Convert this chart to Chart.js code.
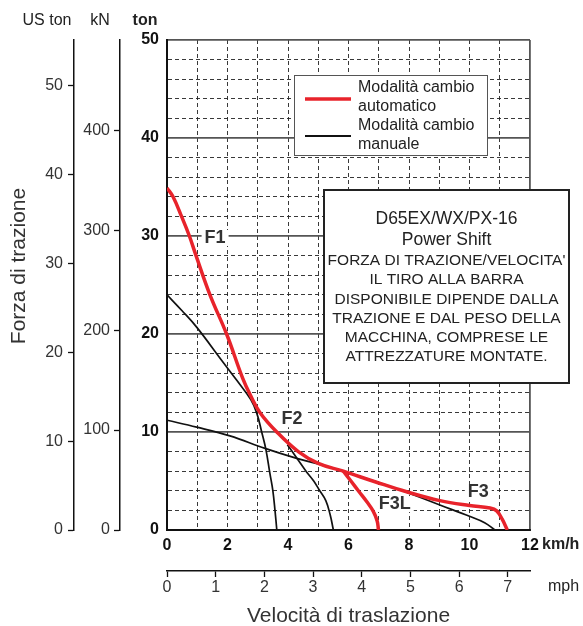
<!DOCTYPE html>
<html>
<head>
<meta charset="utf-8">
<script src="https://cdn.jsdelivr.net/npm/chart.js@4.4.1/dist/chart.umd.min.js"></script>
<style>
  html, body { margin: 0; padding: 0; background: #fff; }
  #wrap { width: 583px; height: 626px; position: relative; }
</style>
</head>
<body>
<div id="wrap"><canvas id="chart"></canvas></div>
<script>
// automatic shift mode (red): F1-F2-F3 envelope, plus F3L branch
const autoKmh = [0, 0.2, 0.48, 0.74, 0.96, 1.42, 1.97, 2.5, 2.75, 3.07, 3.63, 4.34, 5.0, 5.83, 6.9, 7.92, 9.02, 10.0, 10.68, 10.9, 11.08, 11.25];
const autoTon = [34.9, 34.0, 32.0, 30, 28, 24, 20, 15.5, 13.8, 12.0, 10, 8, 6.8, 6.0, 4.9, 3.9, 3.0, 2.5, 2.25, 1.95, 1.1, 0];
const f3lKmh = [5.83, 6.08, 6.35, 6.6, 6.82, 6.95, 6.99];
const f3lTon = [6.0, 5.0, 3.9, 2.9, 1.9, 0.9, 0];

// manual shift mode (black)
const manF1Kmh = [0, 0.49, 0.98, 1.81, 2.3, 2.77, 2.97, 3.13, 3.27, 3.4, 3.5, 3.57, 3.63];
const manF1Ton = [24, 22.4, 20.7, 17.3, 15.3, 13.3, 11.9, 10, 8.2, 5.8, 4.0, 2.0, 0];
const manF2Kmh = [3.98, 4.3, 4.62, 4.85, 5.05, 5.25, 5.39, 5.5];
const manF2Ton = [8.7, 7.3, 5.9, 5.0, 4.0, 3.0, 1.6, 0];
const manF3Kmh = [0, 0.98, 2.08, 3.24, 4.29, 5.0, 5.72, 6.9, 7.92, 9.02, 10.0, 10.5, 10.84];
const manF3Ton = [11.2, 10.5, 9.6, 8.33, 7.31, 6.73, 6.1, 4.95, 3.85, 2.55, 1.4, 0.75, 0];

// gear labels
const gearNames = ["F1", "F2", "F3L", "F3"];
const gearKmh = [1.59, 4.13, 7.53, 10.29];
const gearTon = [29.8, 11.3, 2.65, 3.88];

// tick labels
const tonTicks = [0, 10, 20, 30, 40, 50];
const kmhTicks = [0, 2, 4, 6, 8, 10, 12];
const usTonTicks = [0, 10, 20, 30, 40, 50];
const kNTicks = [0, 100, 200, 300, 400];
const mphTicks = [0, 1, 2, 3, 4, 5, 6, 7];

const TON_TO_US = 1.10231;
const TON_TO_KN = 9.80665;
const KMH_TO_MPH = 0.621371;

const FONT = "'Liberation Sans', Arial, Helvetica, sans-serif";
Chart.defaults.font.family = FONT;

function pts(xs, ys) {
  return xs.map((v, i) => ({ x: v, y: ys[i] }));
}

function curve(xs, ys, color, width) {
  return {
    data: pts(xs, ys),
    borderColor: color,
    borderWidth: width,
    pointRadius: 0,
    fill: false,
    tension: 0.4,
    xAxisID: "x",
    yAxisID: "y",
  };
}

const RED = "#e8232b";
const BLACK = "#111";

const annotations = {
  id: "annotations",
  afterDraw(chart) {
    const ctx = chart.ctx;
    const sx = chart.scales.x;
    const sy = chart.scales.y;
    const area = chart.chartArea;
    ctx.save();
    ctx.fillStyle = "#222";
    ctx.textBaseline = "middle";
    ctx.textAlign = "center";

    // column headers
    ctx.font = "16px " + FONT;
    ctx.fillText("US ton", 47, 21);
    ctx.fillText("kN", 100, 21);
    ctx.font = "bold 16px " + FONT;
    ctx.fillText("ton", 145, 21);

    // unit labels
    ctx.textAlign = "left";
    ctx.fillText("km/h", area.right + 12, 545);
    ctx.font = "16px " + FONT;
    ctx.fillText("mph", area.right + 18, 587);

    // axis titles
    ctx.fillStyle = "#333";
    ctx.font = "21px " + FONT;
    ctx.textAlign = "center";
    ctx.textBaseline = "alphabetic";
    ctx.fillText("Velocità di traslazione", (area.left + area.right) / 2, 622);
    ctx.save();
    ctx.translate(25, 266);
    ctx.rotate(-Math.PI / 2);
    ctx.fillText("Forza di trazione", 0, 0);
    ctx.restore();

    // gear labels
    ctx.font = "bold 18px " + FONT;
    ctx.textBaseline = "middle";
    gearNames.forEach((name, i) => {
      const px = sx.getPixelForValue(gearKmh[i]);
      const py = sy.getPixelForValue(gearTon[i]);
      const w = ctx.measureText(name).width;
      ctx.fillStyle = "#fff";
      ctx.fillRect(px - w / 2 - 3, py - 8, w + 6, 16);
      ctx.fillStyle = "#333";
      ctx.fillText(name, px, py);
    });

    // legend box
    ctx.fillStyle = "#fff";
    ctx.fillRect(294, 75, 193, 80);
    ctx.strokeStyle = "#555";
    ctx.lineWidth = 1;
    ctx.strokeRect(294.5, 75.5, 193, 80);
    ctx.lineWidth = 3.5;
    ctx.strokeStyle = RED;
    ctx.beginPath();
    ctx.moveTo(305, 99);
    ctx.lineTo(351, 99);
    ctx.stroke();
    ctx.lineWidth = 2;
    ctx.strokeStyle = BLACK;
    ctx.beginPath();
    ctx.moveTo(305, 136);
    ctx.lineTo(351, 136);
    ctx.stroke();
    ctx.fillStyle = "#222";
    ctx.font = "16px " + FONT;
    ctx.textAlign = "left";
    ctx.fillText("Modalità cambio", 358, 88);
    ctx.fillText("automatico", 358, 107);
    ctx.fillText("Modalità cambio", 358, 126);
    ctx.fillText("manuale", 358, 145);

    // info box
    ctx.fillStyle = "#fff";
    ctx.fillRect(324, 190, 245, 193);
    ctx.strokeStyle = "#222";
    ctx.lineWidth = 2;
    ctx.strokeRect(324, 190, 245, 193);
    ctx.fillStyle = "#222";
    ctx.textAlign = "center";
    const cx = 446.5;
    ctx.font = "17.5px " + FONT;
    ctx.fillText("D65EX/WX/PX-16", cx, 219);
    ctx.fillText("Power Shift", cx, 240);
    ctx.font = "15.5px " + FONT;
    const lines = [
      "FORZA DI TRAZIONE/VELOCITA'",
      "IL TIRO ALLA BARRA",
      "DISPONIBILE DIPENDE DALLA",
      "TRAZIONE E DAL PESO DELLA",
      "MACCHINA, COMPRESE LE",
      "ATTREZZATURE MONTATE.",
    ];
    lines.forEach((t, i) => ctx.fillText(t, cx, 261 + i * 19.2));
    ctx.restore();
  },
};

new Chart(document.getElementById("chart"), {
  type: "line",
  data: {
    datasets: [
      curve(autoKmh, autoTon, RED, 3.5),
      curve(f3lKmh, f3lTon, RED, 3.5),
      curve(manF1Kmh, manF1Ton, BLACK, 1.7),
      curve(manF2Kmh, manF2Ton, BLACK, 1.7),
      curve(manF3Kmh, manF3Ton, BLACK, 1.7),
    ],
  },
  options: {
    responsive: true,
    maintainAspectRatio: false,
    animation: false,
    layout: { padding: { top: 40, right: 53, left: 0, bottom: 25 } },
    plugins: { legend: { display: false }, tooltip: { enabled: false } },
    scales: {
      x: {
        type: "linear",
        position: "bottom",
        weight: 0,
        min: 0,
        max: 12,
        afterFit: (s) => { s.height = 41; },
        ticks: {
          stepSize: 1,
          autoSkip: false,
          maxRotation: 0,
          padding: 6,
          color: "#111",
          font: { size: 16, weight: "bold" },
          callback: (v) => (kmhTicks.includes(v) ? String(v) : ""),
        },
        grid: {
          drawTicks: false,
          color: (c) => (c.tick && c.tick.value === 12 ? "#555" : "#222"),
          lineWidth: (c) => (c.tick && c.tick.value === 12 ? 1.8 : 0.9),
        },
        border: {
          display: true,
          color: "#111",
          width: 2,
          dash: (c) => (c.tick && c.tick.value % 12 !== 0 ? [4, 3] : []),
        },
      },
      mph: {
        type: "linear",
        position: "bottom",
        weight: 1,
        min: 0,
        max: 12 * KMH_TO_MPH,
        afterBuildTicks: (s) => { s.ticks = mphTicks.map((v) => ({ value: v })); },
        afterFit: (s) => { s.height = 30; },
        ticks: { autoSkip: false, maxRotation: 0, padding: 1, color: "#333", font: { size: 16 } },
        grid: { drawOnChartArea: false, tickLength: 6, tickColor: "#111", tickWidth: 1.3 },
        border: { display: true, color: "#111", width: 1.5 },
      },
      y: {
        type: "linear",
        position: "left",
        weight: 0,
        min: 0,
        max: 50,
        afterFit: (s) => { s.width = 47; },
        ticks: {
          stepSize: 2,
          autoSkip: false,
          padding: 8,
          color: "#111",
          font: { size: 16, weight: "bold" },
          callback: (v) => (tonTicks.includes(v) ? String(v) : ""),
        },
        grid: {
          drawTicks: false,
          color: (c) => (c.tick && c.tick.value % 10 === 0 ? "#555" : "#222"),
          lineWidth: (c) => (c.tick && c.tick.value % 10 === 0 ? 1.8 : 0.9),
        },
        border: {
          display: true,
          color: "#111",
          width: 2,
          dash: (c) => (c.tick && c.tick.value % 10 !== 0 ? [4, 3] : []),
        },
      },
      yKN: {
        type: "linear",
        position: "left",
        weight: 1,
        min: 0,
        max: 50 * TON_TO_KN,
        afterBuildTicks: (s) => { s.ticks = kNTicks.map((v) => ({ value: v })); },
        afterFit: (s) => { s.width = 46; },
        ticks: { autoSkip: false, padding: 4, color: "#333", font: { size: 16 } },
        grid: { drawOnChartArea: false, tickLength: 6, tickColor: "#111", tickWidth: 1.3 },
        border: { display: true, color: "#111", width: 1.5 },
      },
      yUS: {
        type: "linear",
        position: "left",
        weight: 2,
        min: 0,
        max: 50 * TON_TO_US,
        afterBuildTicks: (s) => { s.ticks = usTonTicks.map((v) => ({ value: v })); },
        afterFit: (s) => { s.width = 74; },
        ticks: { autoSkip: false, padding: 5, color: "#333", font: { size: 16 } },
        grid: { drawOnChartArea: false, tickLength: 6, tickColor: "#111", tickWidth: 1.3 },
        border: { display: true, color: "#111", width: 1.5 },
      },
    },
  },
  plugins: [annotations],
});
</script>
</body>
</html>
